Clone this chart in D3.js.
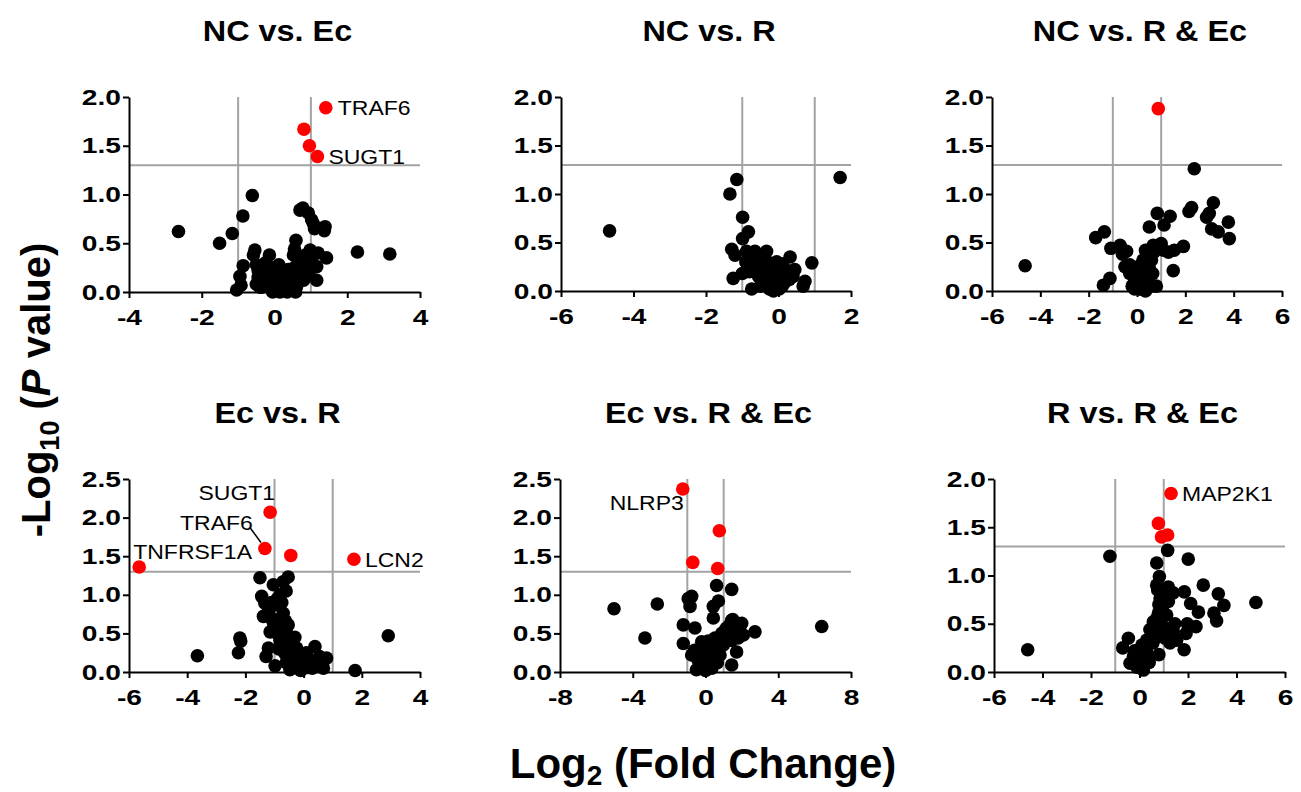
<!DOCTYPE html>
<html>
<head>
<meta charset="utf-8">
<script src="https://cdn.jsdelivr.net/npm/d3@7"></script>
<style>
body { margin: 0; background: #fff; }
text { font-family: "Liberation Sans", Arial, sans-serif; }
</style>
</head>
<body>
<div id="chart"></div>
<script>
// ---- data: [log2 fold change, -log10 p] ----
var titles = ["NC vs. Ec", "NC vs. R", "NC vs. R & Ec", "Ec vs. R", "Ec vs. R & Ec", "R vs. R & Ec"];
var xDomains = [[-4, 4], [-6, 2], [-6, 6], [-6, 4], [-8, 8], [-6, 6]];
var xTicks = [[-4, -2, 0, 2, 4], [-6, -4, -2, 0, 2], [-6, -4, -2, 0, 2, 4, 6],
              [-6, -4, -2, 0, 2, 4], [-8, -4, 0, 4, 8], [-6, -4, -2, 0, 2, 4, 6]];
var yTicks = [[0, 0.5, 1, 1.5, 2], [0, 0.5, 1, 1.5, 2], [0, 0.5, 1, 1.5, 2],
              [0, 0.5, 1, 1.5, 2, 2.5], [0, 0.5, 1, 1.5, 2, 2.5], [0, 0.5, 1, 1.5, 2]];
var foldCut = [-1, 1];
var pCut = 1.3;

var ncEcGrey = [[-2.64,0.62],[-1.51,0.50],[-1.16,0.60],[-0.87,0.78],[-0.61,0.99],[2.28,0.41],[3.17,0.39],
  [0.70,0.84],[0.78,0.86],[0.93,0.81],[1.02,0.74],[1.07,0.70],[1.10,0.65],[1.39,0.67],[1.37,0.63],
  [0.59,0.53],[0.52,0.38],[0.55,0.44],[0.98,0.43],[0.85,0.38],[1.20,0.40],[1.43,0.35],[1.16,0.26],[1.16,0.12],
  [0.90,0.30],[0.75,0.22],[1.00,0.33],[0.80,0.12],[-0.54,0.43],[-0.58,0.38],[-0.14,0.38],[-0.86,0.27],
  [-0.95,0.16],[-1.04,0.02],[-0.92,0.07],[-0.50,0.28],[-0.45,0.15],[-0.50,0.08],[-0.35,0.22],[-0.30,0.10],
  [-0.20,0.18],[-0.15,0.05],[-0.10,0.22],[0.00,0.12],[0.05,0.02],[0.10,0.20],[0.15,0.08],[0.20,0.15],
  [0.25,0.03],[0.30,0.22],[0.35,0.10],[0.40,0.17],[0.45,0.02],[0.50,0.12],[0.60,0.05],[0.55,0.25],
  [0.65,0.30],[-0.25,0.30],[0.00,0.25],[-0.40,0.05],[0.38,0.23],[0.68,0.36],
  [-0.45,0.22],[-0.35,0.05],[-0.25,0.12],[-0.05,0.15],[0.05,0.10],[0.12,0.28],[0.22,0.05],[0.28,0.13],
  [0.42,0.08],[0.48,0.20],[0.58,0.15],[0.62,0.20],[-0.05,0.00],[0.15,0.00],[0.35,0.00],[0.58,0.00],
  [0.70,0.28],[0.85,0.30],[0.95,0.20]];
var ncEcRed = [[1.41,1.89],[0.81,1.67],[0.96,1.50],[1.18,1.39]];

var ncRGrey = [[-4.66,0.62],[-1.15,1.15],[-1.34,1.00],[1.70,1.17],[-0.99,0.76],[-0.83,0.61],[-0.99,0.54],
  [-1.29,0.43],[-1.20,0.37],[-0.88,0.41],[-0.65,0.41],[-0.33,0.41],[0.32,0.35],[0.92,0.29],[-1.25,0.13],
  [-0.74,0.02],[0.73,0.10],[0.68,0.05],[-0.14,0.00],[-0.90,0.30],[-0.80,0.20],[-0.70,0.25],[-0.60,0.30],
  [-0.55,0.15],[-0.50,0.22],[-0.45,0.10],[-0.40,0.30],[-0.35,0.18],[-0.30,0.07],[-0.25,0.25],[-0.20,0.12],
  [-0.15,0.03],[-0.10,0.20],[-0.05,0.08],[0.00,0.15],[0.05,0.25],[0.10,0.05],[0.15,0.18],[0.20,0.10],
  [0.25,0.20],[0.30,0.12],[0.40,0.15],[0.45,0.22],[-0.05,0.30],[0.10,0.28],[-1.00,0.18],[-0.65,0.35],[0.02,0.02],
  [-0.50,0.05],[-0.40,0.20],[-0.30,0.30],[-0.20,0.25],[-0.15,0.15],[-0.10,0.05],[0.00,0.05],[0.05,0.12],
  [0.15,0.08],[0.20,0.22],[-0.60,0.20],[-0.25,0.02],[0.10,0.15],[-0.35,0.12],[0.35,0.20]];
var ncRRed = [];

var ncREcGrey = [[2.37,1.26],[-4.63,0.26],[3.16,0.91],[2.99,0.80],[2.88,0.76],[3.78,0.71],[3.82,0.54],
  [3.36,0.61],[3.09,0.64],[2.26,0.86],[2.15,0.82],[0.84,0.80],[1.37,0.77],[1.12,0.68],[0.51,0.66],
  [-1.35,0.61],[-1.71,0.55],[-1.08,0.44],[-0.70,0.47],[-0.43,0.41],[-0.60,0.38],[1.92,0.46],[1.54,0.42],
  [1.50,0.21],[-1.12,0.13],[-1.39,0.06],[-0.50,0.25],[-0.30,0.27],[0.67,0.47],[1.00,0.49],[0.35,0.42],
  [0.20,0.28],[0.00,0.05],[0.10,0.15],[0.20,0.08],[0.30,0.20],[0.40,0.10],[0.50,0.25],[0.60,0.05],
  [-0.10,0.10],[-0.20,0.05],[0.15,0.02],[0.35,0.00],[0.45,0.30],[0.55,0.38],[0.70,0.40],[0.90,0.45],
  [0.25,0.32],[0.05,0.25],[-0.30,0.18],[0.80,0.05],[0.65,0.18],[1.10,0.42],[1.30,0.40],[0.50,0.15],[-0.05,0.20],
  [0.05,0.15],[0.15,0.22],[0.25,0.10],[0.35,0.15],[0.45,0.05],[0.55,0.20],[0.10,0.02],[-0.10,0.02],
  [0.30,0.05],[0.60,0.32],[0.40,0.40],[0.80,0.45],[0.20,0.18]];
var ncREcRed = [[0.88,1.88]];

var ecRGrey = [[2.91,0.47],[1.77,0.02],[-3.65,0.21],[-2.19,0.44],[-2.16,0.40],[-2.24,0.25],[-1.50,1.22],
  [-1.04,1.13],[-0.53,1.23],[-0.70,1.17],[-0.81,1.00],[-1.44,0.98],[-1.33,0.89],[-0.98,0.87],[-1.38,0.72],
  [-0.70,0.76],[-0.53,0.61],[-1.15,0.52],[-0.95,0.55],[-0.81,0.41],[-1.21,0.31],[-1.29,0.20],[-0.98,0.08],
  [-0.24,0.31],[0.39,0.33],[0.79,0.18],[0.68,0.05],[0.22,0.16],[-0.24,0.16],[-0.47,0.03],[0.00,0.05],
  [-0.64,0.24],[-0.40,0.36],[-0.70,0.48],[-0.62,0.66],[-1.05,0.65],[-0.85,0.30],[-0.55,0.45],[-0.30,0.10],
  [0.10,0.25],[0.45,0.12],[-0.10,0.02],[-0.60,0.12],[0.30,0.05],[-0.90,0.95],[-1.20,0.80],
  [-1.10,0.70],[-1.00,0.60],[-0.90,0.50],[-0.80,0.65],[-0.60,0.55],[-0.50,0.35],[-0.45,0.25],[-0.35,0.20],
  [-0.20,0.05],[-0.15,0.20],[0.05,0.12],[0.15,0.06],[-0.40,0.12],[-0.70,0.35],[-1.10,0.90],[-0.75,0.90],
  [-0.60,1.05],[0.55,0.20],[-0.30,0.45]];
var ecRRed = [[-5.65,1.36],[-1.33,1.60],[-1.15,2.07],[-0.44,1.51],[1.73,1.46]];

var ecREcGrey = [[-5.03,0.82],[-2.65,0.88],[-3.33,0.44],[6.39,0.59],[0.61,1.12],[1.44,1.07],[-0.76,0.98],
  [-0.85,0.85],[-0.95,0.95],[0.71,0.92],[0.43,0.85],[0.43,0.70],[-1.22,0.61],[-0.58,0.57],[1.44,0.67],
  [1.99,0.63],[1.16,0.57],[2.08,0.48],[1.44,0.41],[2.72,0.52],[-1.22,0.37],[-0.76,0.22],[1.71,0.26],
  [1.44,0.09],[0.52,0.44],[-0.21,0.39],[0.98,0.35],[0.80,0.22],[-0.30,0.07],[0.07,0.16],[0.43,0.17],
  [-0.50,0.03],[0.00,0.02],[0.30,0.30],[-0.60,0.28],[1.10,0.55],[1.70,0.62],[1.25,0.47],[1.80,0.44],
  [-0.30,0.20],[0.20,0.08],[0.60,0.28],[0.15,0.40],[-0.10,0.30],
  [-0.20,0.15],[-0.10,0.05],[0.10,0.25],[0.25,0.15],[0.35,0.05],[0.50,0.35],[0.70,0.40],[0.90,0.50],
  [1.30,0.60],[1.60,0.50],[1.50,0.68],[0.00,0.35],[-0.40,0.15],[0.45,0.25],[0.65,0.12]];
var ecREcRed = [[-1.25,2.37],[0.76,1.83],[-0.70,1.42],[0.67,1.34]];

var rREcGrey = [[-1.22,1.20],[-4.61,0.23],[1.16,1.26],[2.01,1.17],[0.71,1.13],[2.63,0.90],[3.25,0.81],
  [3.48,0.69],[4.80,0.72],[1.85,0.83],[2.11,0.71],[2.43,0.62],[3.07,0.61],[3.18,0.53],[1.97,0.50],
  [2.33,0.47],[1.92,0.40],[1.84,0.23],[0.80,0.18],[-0.46,0.35],[-0.69,0.25],[0.82,0.99],[0.71,0.90],
  [1.19,0.88],[1.39,0.82],[0.85,0.76],[1.19,0.73],[0.78,0.61],[1.12,0.59],[0.57,0.52],[1.46,0.50],
  [0.43,0.44],[1.39,0.42],[1.05,0.35],[1.53,0.33],[1.26,0.30],[0.30,0.33],[-0.25,0.16],[0.16,0.21],
  [-0.39,0.09],[0.16,0.02],[-0.05,0.12],[0.35,0.16],[0.80,0.70],[0.55,0.30],[0.10,0.28],[0.90,0.50],
  [0.65,0.42],[0.05,0.05],
  [0.20,0.10],[0.00,0.20],[-0.10,0.05],[0.30,0.20],[0.45,0.30],[0.60,0.45],[0.70,0.55],[0.90,0.62],
  [1.00,0.80],[0.95,0.68],[0.65,0.35],[0.25,0.25],[-0.20,0.22],[0.40,0.10],[1.10,0.45],[0.75,0.85]];
var rREcRed = [[1.30,1.85],[0.78,1.54],[0.91,1.40],[1.16,1.42]];

// gene names, matched to red points by index
var ncEcGenes = [[0, "TRAF6"], [3, "SUGT1"]];
var ecRGenes = [[0, "TNFRSF1A"], [1, "TRAF6"], [2, "SUGT1"], [4, "LCN2"]];
var ecREcGenes = [[0, "NLRP3"]];
var rREcGenes = [[0, "MAP2K1"]];

var greys = [ncEcGrey, ncRGrey, ncREcGrey, ecRGrey, ecREcGrey, rREcGrey];
var reds = [ncEcRed, ncRRed, ncREcRed, ecRRed, ecREcRed, rREcRed];
var genes = [ncEcGenes, [], [], ecRGenes, ecREcGenes, rREcGenes];

// ---- layout ----
var boxes = [
  {l: 129, r: 420, t: 97, b: 292},
  {l: 561, r: 851, t: 97, b: 291},
  {l: 992, r: 1282, t: 97, b: 291},
  {l: 129, r: 420, t: 479, b: 672},
  {l: 560, r: 851, t: 479, b: 672},
  {l: 994, r: 1285, t: 479, b: 672}
];
// label placement: [dx, dy, anchor]
var labelPos = {
  "0-TRAF6": [12, 0, "start"], "0-SUGT1": [11, 0, "start"],
  "3-TNFRSF1A": [-6, -15, "start"], "3-TRAF6": [-12, -26, "end"], "3-SUGT1": [5, -19, "end"], "3-LCN2": [11, 1, "start"],
  "4-NLRP3": [1, 14, "end"], "5-MAP2K1": [11, 0, "start"]
};
var tickStretch = 1.28, labelStretch = 1.15, dotR = 6.8;

var svg = d3.select("#chart").append("svg")
  .attr("width", 1301)
  .attr("height", 792);

function stretchText(sel, sx) {
  sel.each(function() {
    var t = d3.select(this);
    var x = +t.attr("x") || 0, y = +t.attr("y") || 0;
    t.attr("x", 0).attr("y", 0)
     .attr("transform", "translate(" + x + "," + y + ") scale(" + sx + ",1)");
  });
}

boxes.forEach(function(bx, i) {
  var x = d3.scaleLinear().domain(xDomains[i]).range([bx.l, bx.r]);
  var yMax = yTicks[i][yTicks[i].length - 1];
  var y = d3.scaleLinear().domain([0, yMax]).range([bx.b, bx.t]);
  var g = svg.append("g");

  // cut-off lines
  g.selectAll("line.vcut")
    .data(foldCut)
    .enter().append("line")
    .attr("x1", function(d) { return x(d); })
    .attr("x2", function(d) { return x(d); })
    .attr("y1", y(yMax))
    .attr("y2", y(0))
    .attr("stroke", "#a3a3a3")
    .attr("stroke-width", 2);
  g.append("line")
    .attr("x1", bx.l).attr("x2", bx.r)
    .attr("y1", y(pCut)).attr("y2", y(pCut))
    .attr("stroke", "#a3a3a3")
    .attr("stroke-width", 2);

  // points
  g.selectAll("circle.grey")
    .data(greys[i])
    .enter().append("circle")
    .attr("cx", function(d) { return x(d[0]); })
    .attr("cy", function(d) { return y(d[1]); })
    .attr("r", dotR)
    .attr("fill", "#000");
  g.selectAll("circle.red")
    .data(reds[i])
    .enter().append("circle")
    .attr("cx", function(d) { return x(d[0]); })
    .attr("cy", function(d) { return y(d[1]); })
    .attr("r", dotR)
    .attr("fill", "#ff0000");

  // axes
  var xAxis = g.append("g")
    .attr("transform", "translate(0," + y(0) + ")")
    .call(d3.axisBottom(x).tickValues(xTicks[i]).tickSize(6).tickSizeOuter(0).tickPadding(11)
      .tickFormat(d3.format("d")));
  var yAxis = g.append("g")
    .attr("transform", "translate(" + x(xDomains[i][0]) + ",0)")
    .call(d3.axisLeft(y).tickValues(yTicks[i]).tickSize(6).tickSizeOuter(0).tickPadding(2)
      .tickFormat(d3.format(".1f")));
  [xAxis, yAxis].forEach(function(a) {
    a.select(".domain").attr("stroke", "#000").attr("stroke-width", 2);
    a.selectAll(".tick line").attr("stroke", "#000").attr("stroke-width", 2);
    a.selectAll("text")
      .attr("font-size", 22)
      .attr("font-weight", "bold")
      .attr("font-family", "Liberation Sans, Arial, sans-serif")
      .attr("fill", "#000");
    stretchText(a.selectAll("text"), tickStretch);
  });
  xAxis.selectAll("text").text(function(d) { return d < 0 ? "-" + Math.abs(d) : d; });

  // title
  g.append("text")
    .attr("transform", "translate(" + ((bx.l + bx.r) / 2 + 3) + "," + (bx.t - 56) + ") scale(1.08,1)")
    .attr("text-anchor", "middle")
    .attr("font-size", 30)
    .attr("font-weight", "bold")
    .text(titles[i]);

  // gene labels
  genes[i].forEach(function(gn) {
    var p = reds[i][gn[0]];
    var pos = labelPos[i + "-" + gn[1]];
    var px = x(p[0]) + pos[0], py = y(p[1]) + pos[1];
    g.append("text")
      .attr("transform", "translate(" + px + "," + py + ") scale(" + labelStretch + ",1)")
      .attr("text-anchor", pos[2])
      .attr("dy", "0.36em")
      .attr("font-size", 20)
      .text(gn[1]);
    if (i === 3 && gn[1] === "TRAF6") {
      g.append("line")
        .attr("x1", x(p[0]) - 15).attr("y1", y(p[1]) - 21)
        .attr("x2", x(p[0]) - 4).attr("y2", y(p[1]) - 6)
        .attr("stroke", "#000").attr("stroke-width", 1.5);
    }
  });
});

// shared axis titles
var yLab = svg.append("text")
  .attr("transform", "translate(50,390) rotate(-90)")
  .attr("text-anchor", "middle")
  .attr("font-size", 40)
  .attr("font-weight", "bold");
yLab.append("tspan").text("-Log");
yLab.append("tspan").attr("font-size", 27).attr("dy", 9).text("10");
yLab.append("tspan").attr("dy", -9).text(" (");
yLab.append("tspan").attr("font-style", "italic").text("P");
yLab.append("tspan").text(" value)");

var xLab = svg.append("text")
  .attr("transform", "translate(703,778)")
  .attr("text-anchor", "middle")
  .attr("font-size", 42)
  .attr("font-weight", "bold");
xLab.append("tspan").text("Log");
xLab.append("tspan").attr("font-size", 28).attr("dy", 7).text("2");
xLab.append("tspan").attr("dy", -7).text(" (Fold Change)");
</script>
</body>
</html>
